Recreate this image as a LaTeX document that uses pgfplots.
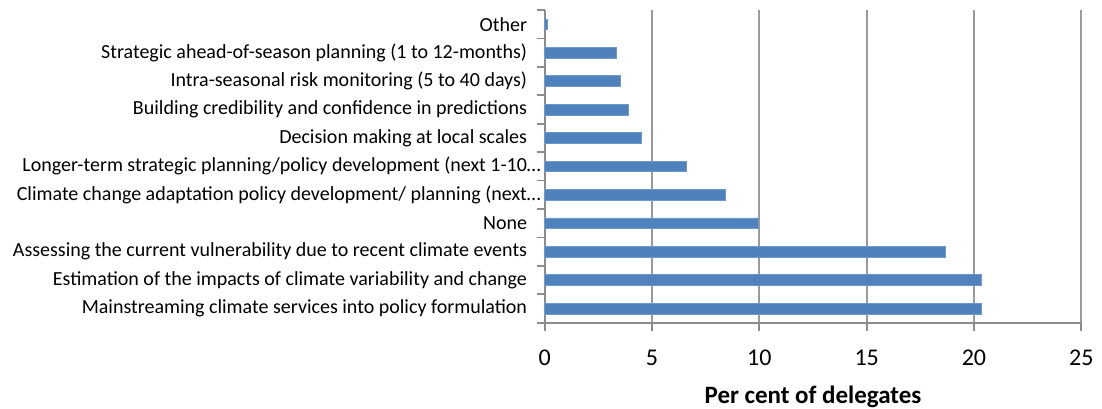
\documentclass[border=0pt]{standalone}
\usepackage{pgfplots}
\pgfplotsset{compat=1.18}
\usepackage{fontspec}
\setmainfont{Carlito}

\definecolor{barblue}{HTML}{4F81BD}
\definecolor{baredge}{HTML}{6F99CB}
\definecolor{gridgray}{HTML}{9A9A9A}
\definecolor{axisgray}{HTML}{8C8C8C}

% share of delegates per need, listed bottom to top
\pgfplotstableread{
idx value
0  20.35
1  20.35
2  18.67
3  9.95
4  8.43
5  6.59
6  4.49
7  3.88
8  3.52
9  3.35
10 0.12
}\needs

\begin{document}
\begin{tikzpicture}
\begin{axis}[
  at={(272.35pt,42.65pt)}, anchor=south west,
  scale only axis,
  width=268.3pt, height=156.35pt,
  xbar, bar width=5.35pt,
  xmin=0, xmax=25,
  ymin=-0.5, ymax=10.5,
  axis x line=bottom, axis y line=left,
  axis line style={axisgray, line width=0.9pt, -},
  xtick={0,5,...,25},
  xmajorgrids, major grid style={gridgray, line width=0.9pt},
  tick align=outside,
  major tick length=4pt,
  minor tick length=4pt,
  every tick/.style={axisgray, line width=0.9pt},
  ytick={0,...,10},
  minor ytick={-0.5,0.5,...,10.5},
  major y tick style={draw=none},
  yticklabels={
    Mainstreaming climate services into policy formulation,
    Estimation of the impacts of climate variability and change,
    Assessing the current vulnerability due to recent climate events,
    None,
    {Climate change adaptation policy development/ planning (next\rlap{…}},
    {Longer-term strategic planning/policy development (next 1-10\rlap{…}},
    Decision making at local scales,
    Building credibility and confidence in predictions,
    Intra-seasonal risk monitoring (5 to 40 days),
    Strategic ahead-of-season planning (1 to 12-months),
    Other},
  yticklabel style={font=\fontsize{10}{11}\selectfont, text=black, xshift=-1.3pt},
  xticklabel style={font=\fontsize{12}{14}\selectfont, text=black, yshift=-6.3pt},
  /pgf/number format/assume math mode=true,
  xlabel={Per cent of delegates},
  xlabel style={font=\fontsize{12.5}{15}\selectfont\bfseries, at={(axis description cs:0.5,0)}, anchor=north, yshift=-28pt},
  clip=false,
]
\addplot[fill=barblue, draw=baredge, line width=0.3pt] table[x=value, y=idx] {\needs};
\end{axis}
\pgfresetboundingbox
\path[use as bounding box] (0,0) rectangle (551pt,204pt);
\end{tikzpicture}
\end{document}
